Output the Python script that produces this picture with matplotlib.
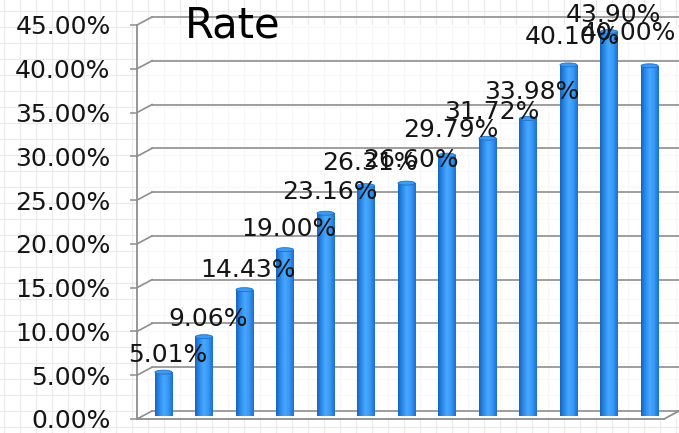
import matplotlib
matplotlib.use("Agg")
import matplotlib.pyplot as plt
import numpy as np
from matplotlib.colors import LinearSegmentedColormap
from matplotlib.patches import Ellipse
from matplotlib.lines import Line2D
from matplotlib.transforms import offset_copy

# data
rates = [5.01, 9.06, 14.43, 19.00, 23.16, 26.31, 26.60, 29.79, 31.72, 33.98, 40.10, 43.90, 40.00]
yticks = [0, 5, 10, 15, 20, 25, 30, 35, 40, 45]
title = "Rate"

W, H = 679, 433
grid_col = "#8e8e8e"
depth_x, depth_y = 15, 8  # fake 3d depth, pixels

fig = plt.figure(figsize=(W / 100, H / 100), dpi=100)
fig.patch.set_facecolor("white")

# faint graph paper background
for gx in np.arange(4, W, 16):
    fig.add_artist(Line2D([gx / W, gx / W], [0, 1], color="#e9e9e9", lw=0.8, zorder=-5))
for gy in np.arange(6, H, 16):
    fig.add_artist(Line2D([0, 1], [gy / H, gy / H], color="#e9e9e9", lw=0.8, zorder=-5))

ax = fig.add_axes([137 / W, 14 / H, 542 / W, 394 / H])
ax.set_facecolor((1, 1, 1, 0.65))
ax.set_ylim(0, 45)
ax.set_xlim(-0.654, 12.729)
for s in ax.spines.values():
    s.set_visible(False)
ax.set_xticks([])
ax.set_yticks(yticks)
ax.set_yticklabels(["%.2f%%" % v for v in yticks], fontsize=18)
ax.tick_params(axis="y", length=5, width=1.1, color=grid_col, pad=14, labelcolor="#151515")

# back wall grid lines with a small diagonal at the left
yax = ax.get_yaxis_transform()
back = offset_copy(yax, fig=fig, x=depth_x, y=depth_y, units="dots")
for v in yticks:
    p0 = yax.transform((0, v))
    p1 = back.transform((0, v))
    fig.add_artist(Line2D([p0[0] / W, p1[0] / W], [p0[1] / H, p1[1] / H],
                          color=grid_col, lw=1.2, zorder=1))
    ax.add_line(Line2D([0, 1], [v, v], transform=back, color=grid_col, lw=1.2,
                       zorder=1, clip_on=False))

# left axis and floor front edge
ax.plot([0, 0], [0, 45], transform=yax, color=grid_col, lw=1.3, clip_on=False)
f0 = yax.transform((1, 0))
ax.plot([0, 1 - depth_x / 542], [0, 0], transform=yax, color=grid_col, lw=1.3, clip_on=False)
fr = yax.transform((1 - depth_x / 542, 0))
fig.add_artist(Line2D([fr[0] / W, f0[0] / W], [fr[1] / H, (f0[1] + depth_y) / H],
                      color=grid_col, lw=1.3))

# cylinder-like bars
x = np.arange(len(rates))
bw = 0.42
bar_tr = offset_copy(ax.transData, fig=fig, y=3, units="dots")
cyl = LinearSegmentedColormap.from_list("cyl", ["#1763c0", "#2c8bea", "#49a9ff", "#3596f5", "#1d6fd0"])
grad = np.linspace(0, 1, 64).reshape(1, -1)
bars = ax.bar(x, rates, width=bw, color="#2f8ff0", transform=bar_tr, zorder=3)
for b, v in zip(bars, rates):
    im = ax.imshow(grad, cmap=cyl, aspect="auto", zorder=3,
                   extent=[b.get_x(), b.get_x() + bw, 0, v], transform=bar_tr)
    im.set_clip_path(b)
    ax.add_patch(Ellipse((b.get_x() + bw / 2, v), bw, 0.45, transform=bar_tr,
                         facecolor="#3a9cf7", edgecolor="#1d6fd0", lw=0.6, zorder=4))

# value labels, pushed back inside the picture when they would leave it
fig.canvas.draw()
r = fig.canvas.get_renderer()
for i, v in enumerate(rates):
    dx, dy = 4, 5 + i * 1.1
    t = ax.annotate("%.2f%%" % v, (i, v), xycoords=bar_tr, textcoords="offset pixels",
                    xytext=(dx, dy), ha="center", va="bottom", fontsize=18,
                    color="#151515", zorder=6, annotation_clip=False)
    bb = t.get_window_extent(r)
    if bb.x1 > W - 3:
        dx -= bb.x1 - (W - 3)
        dy += 3
    if bb.y1 > H - 3:
        dy -= bb.y1 - (H - 3)
    t.set_position((dx, dy))

fig.text(185 / W, 1 - 38 / H, title, fontsize=30, va="baseline", ha="left", color="black")

fig.savefig("out.png", dpi=100)
